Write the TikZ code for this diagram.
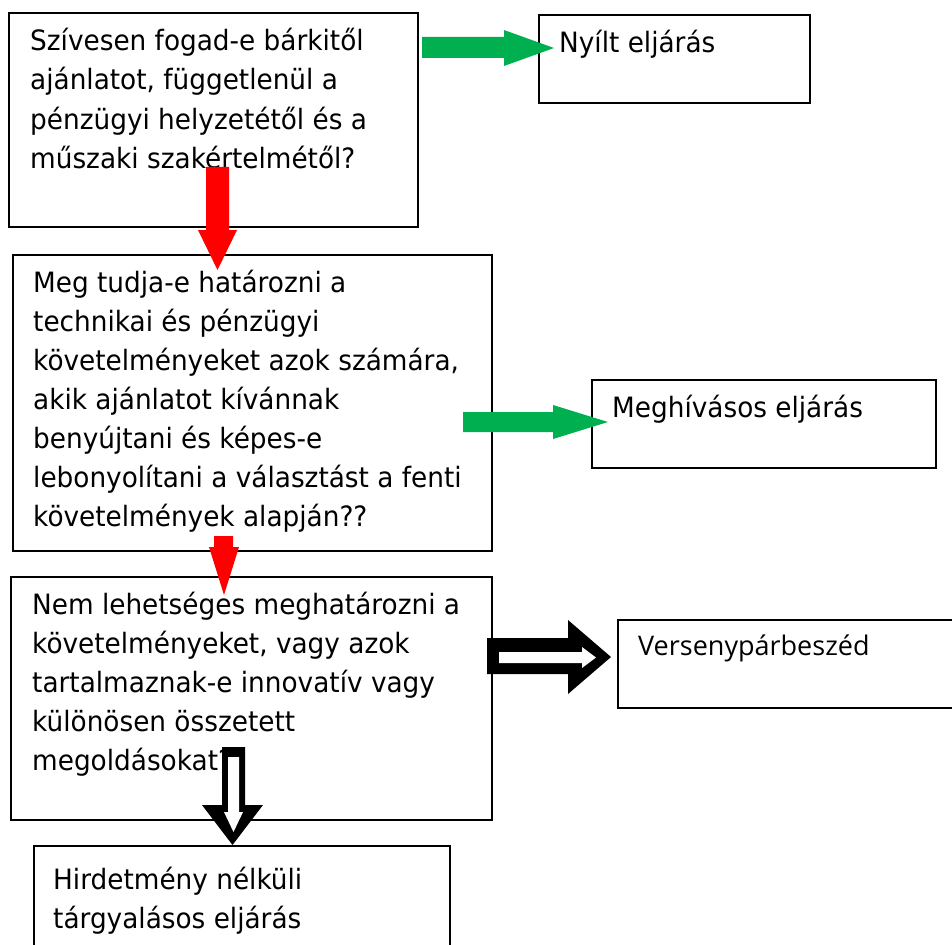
\documentclass[tikz,border=0pt]{standalone}
\usepackage{fontspec}
\setmainfont{DejaVu Sans}[FakeStretch=0.94]
\newfontfamily\altsans{Open Sans}
\definecolor{okgreen}{HTML}{00B050}
\definecolor{stopred}{HTML}{FF0000}
\begin{document}
\begin{tikzpicture}[x=1pt,y=-1pt,
  box/.style={draw=black, line width=1.8pt, inner sep=0pt, anchor=north west},
  txt/.style={font=\fontsize{28}{39}\selectfont, align=left, inner sep=0pt, anchor=base west},
  alttxt/.style={font=\altsans\fontsize{27}{32}\selectfont, inner sep=0pt, anchor=base west},
  greenarrow/.style={fill=okgreen},
  redarrow/.style={fill=stopred},
  hollowouter/.style={fill=black},
  hollowinner/.style={fill=white}
]
\useasboundingbox (0,0) rectangle (952,944);

% question and outcome boxes
\node[box, minimum width=409pt, minimum height=214pt] (q1) at (8,12) {};
\node[box, minimum width=271pt, minimum height=88pt] (open) at (538,14) {};
\node[box, minimum width=479pt, minimum height=296pt] (q2) at (12,254) {};
\node[box, minimum width=344pt, minimum height=88pt] (restricted) at (591,379) {};
\node[box, minimum width=481pt, minimum height=243pt] (q3) at (10,576) {};
\node[box, minimum width=350pt, minimum height=88pt] (dialogue) at (617,619) {};
\node[box, minimum width=416pt, minimum height=120pt] (negotiated) at (33,845) {};

% texts (each placed by the baseline of its last line)
\node[txt] (t1) at (30,168) {Szívesen fogad-e bárkitől\\ajánlatot, függetlenül a\\pénzügyi helyzetétől és a\\műszaki szakértelmétől?};
\node[txt] (t2) at (559,53) {Nyílt eljárás};
\node[txt] (t3) at (33,526) {Meg tudja-e határozni a\\technikai és pénzügyi\\követelményeket azok számára,\\akik ajánlatot kívánnak\\benyújtani és képes-e\\lebonyolítani a választást a fenti\\követelmények alapján??};
\node[txt] (t4) at (612,417) {Meghívásos eljárás};
\node[txt] (t5) at (32,770) {Nem lehetséges meghatározni a\\követelményeket, vagy azok\\tartalmaznak-e innovatív vagy\\különösen összetett\\megoldásokat?};
\node[alttxt] (t6) at (638,655) {Versenypárbeszéd};
\node[txt] (t7) at (53,928) {Hirdetmény nélküli\\tárgyalásos eljárás};

% filled block arrows
\fill[greenarrow] (422,37) -- (504,37) -- (504,30) -- (554,48) -- (504,66) -- (504,58) -- (422,58) -- cycle;
\fill[redarrow] (206,167) -- (229,167) -- (229,230) -- (237,230) -- (217.5,270) -- (198,230) -- (206,230) -- cycle;
\fill[greenarrow] (463,412) -- (553,412) -- (553,405) -- (608,422) -- (553,439) -- (553,432) -- (463,432) -- cycle;
\fill[redarrow] (214,536) -- (233,536) -- (233,547) -- (239,547) -- (224,595) -- (209,547) -- (214,547) -- cycle;

% hollow block arrow to the right
\fill[hollowouter] (487,638) -- (568,638) -- (568,620) -- (611,657) -- (568,694) -- (568,674) -- (487,674) -- cycle;
\fill[hollowinner] (499,652) -- (582,652) -- (582,647) -- (596,657.5) -- (582,668) -- (582,663) -- (499,663) -- cycle;

% hollow block arrow downwards
\fill[hollowouter] (222,747) -- (245,747) -- (245,805) -- (263,805) -- (232.5,845) -- (202,805) -- (222,805) -- cycle;
\fill[hollowinner] (228,757) -- (239,757) -- (239,812) -- (243,812) -- (233.5,832) -- (224,812) -- (228,812) -- cycle;
\end{tikzpicture}
\end{document}
